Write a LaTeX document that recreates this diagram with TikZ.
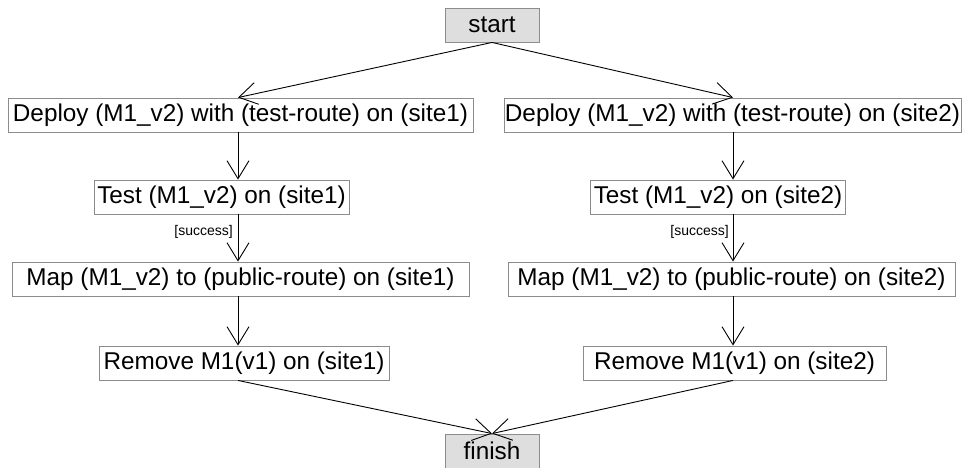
\documentclass[tikz,border=0pt]{standalone}
\usepackage{fontspec}
\setmainfont{Liberation Sans}
\usetikzlibrary{arrows.meta}
\definecolor{boxgray}{HTML}{DEDEDE}
\definecolor{edgegray}{HTML}{8C8C8C}
\tikzset{
  act/.style={draw=edgegray, line width=0.9pt, fill=white, minimum height=34pt, inner sep=0pt, font=\fontsize{24.3}{28}\selectfont},
  term/.style={act, fill=boxgray, minimum width=94pt},
  arr/.style={line width=0.9pt, -{Straight Barb[length=18pt,width=22pt,line width=0.9pt]}},
  guard/.style={font=\fontsize{14}{16}\selectfont, inner sep=0pt, anchor=east}
}
\begin{document}
\begin{tikzpicture}[x=1pt,y=-1pt]
\useasboundingbox (0,0) rectangle (962,468);
\coordinate (cl) at (238,0);
\coordinate (cr) at (733,0);
\node[term] (s) at (492,25) {start};
\node[act, minimum width=465pt] (d1) at (240.5,115) {Deploy (M1\_v2) with (test-route) on (site1)};
\node[act, minimum width=457pt] (d2) at (732.5,115) {Deploy (M1\_v2) with (test-route) on (site2)};
\node[act, minimum width=255pt] (t1) at (221.5,197) {Test (M1\_v2) on (site1)};
\node[act, minimum width=255pt] (t2) at (718,197) {Test (M1\_v2) on (site2)};
\node[act, minimum width=457pt] (m1) at (240.5,279) {Map (M1\_v2) to (public-route) on (site1)};
\node[act, minimum width=447pt] (m2) at (731.5,279) {Map (M1\_v2) to (public-route) on (site2)};
\node[act, minimum width=290pt] (r1) at (244,363) {Remove M1(v1) on (site1)};
\node[act, minimum width=303pt] (r2) at (734.5,363) {Remove M1(v1) on (site2)};
\node[term] (f) at (492,451) {finish};
\draw[arr] (s.south) -- (d1.north -| cl);
\draw[arr] (s.south) -- (d2.north -| cr);
\draw[arr] (d1.south -| cl) -- (t1.north -| cl);
\draw[arr] (d2.south -| cr) -- (t2.north -| cr);
\draw[arr] (t1.south -| cl) -- (m1.north -| cl);
\draw[arr] (t2.south -| cr) -- (m2.north -| cr);
\draw[arr] (m1.south -| cl) -- (r1.north -| cl);
\draw[arr] (m2.south -| cr) -- (r2.north -| cr);
\draw[arr] (r1.south -| cl) -- (f.north);
\draw[arr] (r2.south -| cr) -- (f.north);
\node[guard] (g1) at (233,232) {[success]};
\node[guard] (g2) at (729,232) {[success]};
\end{tikzpicture}
\end{document}
